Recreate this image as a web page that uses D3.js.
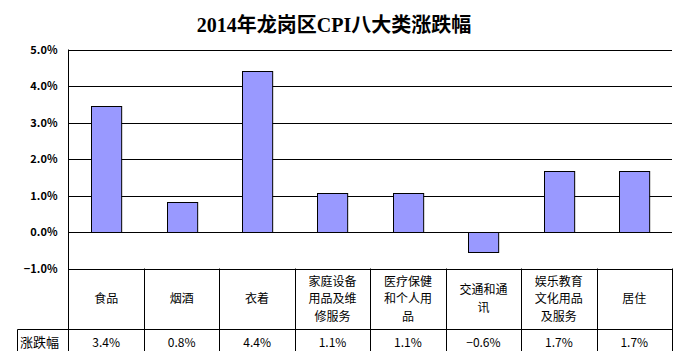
<!DOCTYPE html>
<html>
<head>
<meta charset="utf-8">
<script src="https://cdn.jsdelivr.net/npm/d3@7"></script>
<style>
  body { margin: 0; background: #fff; }
  svg { display: block; }
</style>
</head>
<body>
<svg></svg>
<script>
const categories = ["食品", "烟酒", "衣着", "家庭设备用品及维修服务", "医疗保健和个人用品", "交通和通讯", "娱乐教育文化用品及服务", "居住"];
const values = [3.44, 0.82, 4.4, 1.07, 1.07, -0.55, 1.67, 1.67];
const valueLabels = ["3.4%", "0.8%", "4.4%", "1.1%", "1.1%", "-0.6%", "1.7%", "1.7%"];
const yTicks = [5, 4, 3, 2, 1, 0, -1];
const rowTitle = "涨跌幅";
const title = "2014年龙岗区CPI八大类涨跌幅";

const width = 678, height = 351;
const svg = d3.select('svg')
    .attr('width', width)
    .attr('height', height);

const margin = { top: 49.5, left: 68.5, right: 6 };
const plotBottom = 268.5;

const xScale = d3.scaleBand()
    .domain(categories)
    .range([margin.left, width - margin.right])
    .paddingInner(0.6)
    .paddingOuter(0.3);

const yScale = d3.scaleLinear()
    .domain([-1, 5])
    .range([plotBottom, margin.top]);

// title
svg.append('text')
    .attr('x', 334)
    .attr('y', 32)
    .attr('text-anchor', 'middle')
    .attr('font-family', '"Liberation Serif", "Noto Sans CJK SC", serif')
    .attr('font-size', 20)
    .attr('font-weight', 'bold')
    .text(title);

// gridlines
svg.append('g').selectAll('line').data(yTicks)
    .enter().append('line')
        .attr('x1', margin.left)
        .attr('x2', width - margin.right)
        .attr('y1', d => Math.round(yScale(d)) + 0.5)
        .attr('y2', d => Math.round(yScale(d)) + 0.5)
        .attr('stroke', '#000');

// y labels
const yAxis = d3.axisLeft(yScale)
    .tickValues(yTicks)
    .tickSize(0)
    .tickPadding(11)
    .tickFormat(d => d3.format('.1f')(d).replace('-', '−') + '%');
const gy = svg.append('g')
    .attr('transform', `translate(${margin.left},0)`)
    .call(yAxis);
gy.select('.domain').remove();
gy.selectAll('text')
    .attr('font-family', '"Noto Sans CJK SC", sans-serif')
    .attr('font-size', 11)
    .attr('font-weight', 'bold')
    .attr('fill', '#000');

// bars
svg.append('g').selectAll('rect').data(values)
    .enter().append('rect')
        .attr('x', (d, i) => Math.round(xScale(categories[i])) + 0.5)
        .attr('width', xScale.bandwidth())
        .attr('y', d => Math.round(yScale(Math.max(0, d))) + 0.5)
        .attr('height', d => Math.abs(Math.round(yScale(d)) - Math.round(yScale(0))))
        .attr('fill', '#9999FF')
        .attr('stroke', '#000')
        .attr('stroke-width', 1);

// vertical axis line
svg.append('line')
    .attr('x1', margin.left).attr('x2', margin.left)
    .attr('y1', margin.top).attr('y2', height + 10)
    .attr('stroke', '#000');

// data table
const rowSep = 329.5, tableBottom = 358.5;
const step = xScale.step();
const bounds = d3.range(categories.length + 1).map(i => margin.left + i * step);

const table = svg.append('g');
table.selectAll('line.col').data(bounds.slice(1))
    .enter().append('line')
        .attr('x1', d => Math.round(d) + 0.5).attr('x2', d => Math.round(d) + 0.5)
        .attr('y1', plotBottom).attr('y2', tableBottom)
        .attr('stroke', '#000');
table.append('line')
    .attr('x1', 17.5).attr('x2', width - margin.right)
    .attr('y1', rowSep).attr('y2', rowSep)
    .attr('stroke', '#000');
table.append('line')
    .attr('x1', 17.5).attr('x2', 17.5)
    .attr('y1', rowSep).attr('y2', tableBottom)
    .attr('stroke', '#000');

const cellFont = '"Noto Sans CJK SC", sans-serif';
const lineH = 17.5;
categories.forEach((c, i) => {
    const lines = [];
    for (let k = 0; k < c.length; k += 4) lines.push(c.slice(k, k + 4));
    const cx = bounds[i] + step / 2;
    const cy = (plotBottom + rowSep) / 2;
    lines.forEach((l, j) => {
        table.append('text')
            .attr('x', cx)
            .attr('y', cy + (j - (lines.length - 1) / 2) * lineH)
            .attr('dy', '0.35em')
            .attr('text-anchor', 'middle')
            .attr('font-family', cellFont)
            .attr('font-size', 12)
            .text(l);
    });
    table.append('text')
        .attr('x', cx)
        .attr('y', 343)
        .attr('dy', '0.35em')
        .attr('text-anchor', 'middle')
        .attr('font-family', cellFont)
        .attr('font-size', 12)
        .text(valueLabels[i].replace('-', '−'));
});
table.append('text')
    .attr('x', 20)
    .attr('y', 342)
    .attr('dy', '0.35em')
    .attr('font-family', cellFont)
    .attr('font-size', 13)
    .text(rowTitle);
</script>
</body>
</html>
